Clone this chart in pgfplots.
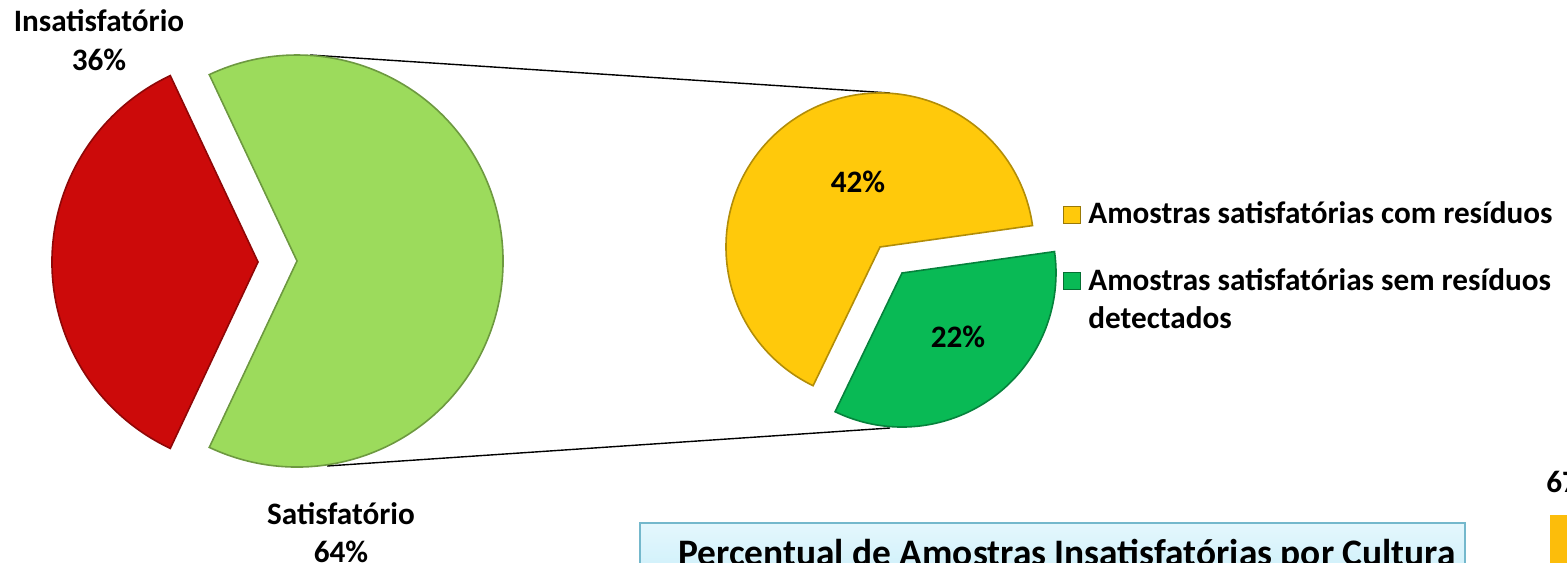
\documentclass[border=0pt]{standalone}
\usepackage{pgfplots}
\pgfplotsset{compat=1.18}
\usepackage{fontspec}
\setmainfont{Carlito}
\usetikzlibrary{shadings}

\definecolor{insat}{HTML}{CC0A0A}
\definecolor{sat}{HTML}{9CDB5C}
\definecolor{com}{HTML}{FFC90B}
\definecolor{sem}{HTML}{09BA55}
\definecolor{boxline}{HTML}{74B8CC}
\definecolor{boxtop}{HTML}{E4F7FD}
\definecolor{boxbot}{HTML}{C4EDF9}
\definecolor{barc}{HTML}{FCBD0B}

% data (percent of all samples)
\def\Insat{36}
\def\Sat{64}
\def\Com{42}
\def\Sem{22}

\begin{document}
\begin{tikzpicture}
% angles of the wedges, from the data
\pgfmathsetmacro{\gA}{-\Sat*3.6/2}
\pgfmathsetmacro{\gB}{\Sat*3.6/2}
\pgfmathsetmacro{\rB}{\gA+360}
\def\yA{8}
\pgfmathsetmacro{\yB}{\yA+\Com/\Sat*360}
\pgfmathsetmacro{\zB}{\yA+360}
\def\Rbig{103pt}
\def\Rsmall{77pt}
\begin{scope}
\clip (0,0) rectangle (783.5pt,281pt);
\begin{axis}[
    at={(0,0)}, anchor=south west,
    width=783.5pt, height=281pt, scale only axis,
    xmin=0, xmax=1567, ymin=0, ymax=562, y dir=reverse,
    hide axis, clip=false,
    font=\fontsize{15.6}{18.5}\selectfont\bfseries,
]
% connector lines
\draw[black, line width=0.7pt] (axis cs:310,55) -- (axis cs:890,93);
\draw[black, line width=0.7pt] (axis cs:327,466) -- (axis cs:890,428);

% first pie
\fill[sat, draw=sat!70!black, line width=0.8pt] (axis cs:297,261) -- ++(\gA:\Rbig)
    arc[start angle=\gA, end angle=\gB, radius=\Rbig] -- cycle;
\fill[insat, draw=insat!70!black, line width=0.8pt] (axis cs:258,262) -- ++(\gB:\Rbig)
    arc[start angle=\gB, end angle=\rB, radius=\Rbig] -- cycle;

% second pie
\fill[com, draw=com!70!black, line width=0.8pt] (axis cs:880,247) -- ++(\yA:\Rsmall)
    arc[start angle=\yA, end angle=\yB, radius=\Rsmall] -- cycle;
\fill[sem, draw=sem!70!black, line width=0.8pt] (axis cs:902,273) -- ++(\yB:\Rsmall)
    arc[start angle=\yB, end angle=\zB, radius=\Rsmall] -- cycle;

% labels
\node[anchor=base] at (axis cs:99,32) {Insatisfatório};
\node[anchor=base] at (axis cs:99,70) {\Insat\%};
\node[anchor=base] at (axis cs:341,524) {Satisfatório};
\node[anchor=base] at (axis cs:341,562) {\Sat\%};
\node[anchor=base] at (axis cs:858,192) {\Com\%};
\node[anchor=base] at (axis cs:958,347) {\Sem\%};

% legend
\fill[com, draw=com!60!black, line width=0.5pt] (axis cs:1063,206) rectangle (axis cs:1080,223);
\fill[sem, draw=sem!60!black, line width=0.5pt] (axis cs:1063,272) rectangle (axis cs:1080,289);
\node[anchor=base west, inner xsep=0pt] at (axis cs:1088,223) {Amostras satisfatórias com resíduos};
\node[anchor=base west, inner xsep=0pt] at (axis cs:1088,290) {Amostras satisfatórias sem resíduos};
\node[anchor=base west, inner xsep=0pt] at (axis cs:1088,328) {detectados};

% next chart, cut by the frame
\shade[top color=boxtop, bottom color=boxbot, draw=boxline, line width=0.8pt]
    (axis cs:640,523) rectangle (axis cs:1465,600);
\node[anchor=base, font=\fontsize{18.7}{22}\selectfont\bfseries] at (axis cs:1067,565)
    {Percentual de Amostras Insatisfatórias por Cultura};
\node[anchor=base west, inner xsep=0pt] at (axis cs:1546,492) {67};
\fill[barc] (axis cs:1550,515) rectangle (axis cs:1580,600);
\end{axis}
\end{scope}
\pgfresetboundingbox
\useasboundingbox (0,0) rectangle (783.5pt,281pt);
\end{tikzpicture}
\end{document}
